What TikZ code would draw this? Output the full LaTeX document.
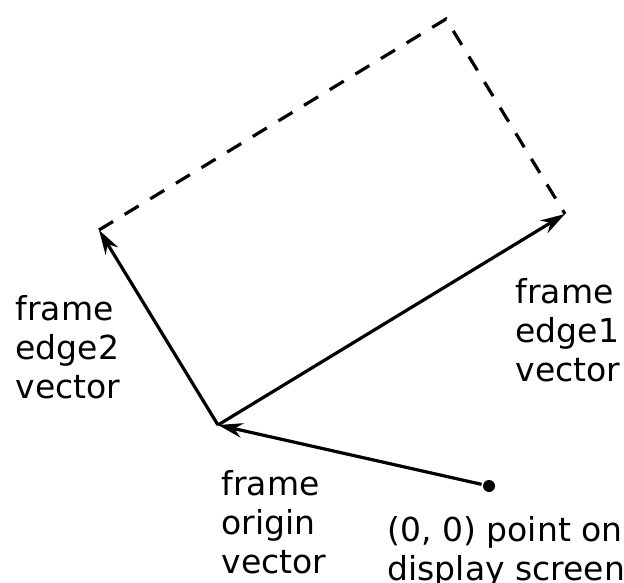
\documentclass[tikz,border=0pt]{standalone}
\usepackage{fontspec}
\setmainfont{DejaVu Sans}
\usetikzlibrary{arrows.meta}

\begin{document}
\begin{tikzpicture}[x=0.75pt,y=0.75pt,every path/.style={line width=2.4pt},
        vec/.style={-{Stealth[length=18.5pt,width=11pt,inset=6pt]}},
        lbl/.style={anchor=base west,inner sep=0pt,align=left,font=\fontsize{24.75pt}{29.25pt}\selectfont}]
          \useasboundingbox (0,0) rectangle (624,582);
          \node[circle,fill=black,inner sep=0pt,minimum size=9pt] (O) at (489,96) {};
          \coordinate (F) at (218,157);
          \coordinate (E1) at (565,368);
          \coordinate (E2) at (99,352);
          \coordinate (C) at (446,563);

          \draw[vec] (O) -- (F);
          \draw[vec] (F) -- (E1);
          \draw[vec] (F) -- (E2);
          \draw[dash pattern=on 12.3pt off 10.2pt] (E2) -- (C) -- (E1);

          \node[lbl] (edge2) at (14,184) {frame\\edge2\\vector};
          \node[lbl] (edge1) at (514,200) {frame\\edge1\\vector};
          \node[lbl] (origin) at (220,9) {frame\\origin\\vector};
          \node[lbl] (screen) at (386,2) {(0, 0) point on\\display screen};
        \end{tikzpicture}
\end{document}
